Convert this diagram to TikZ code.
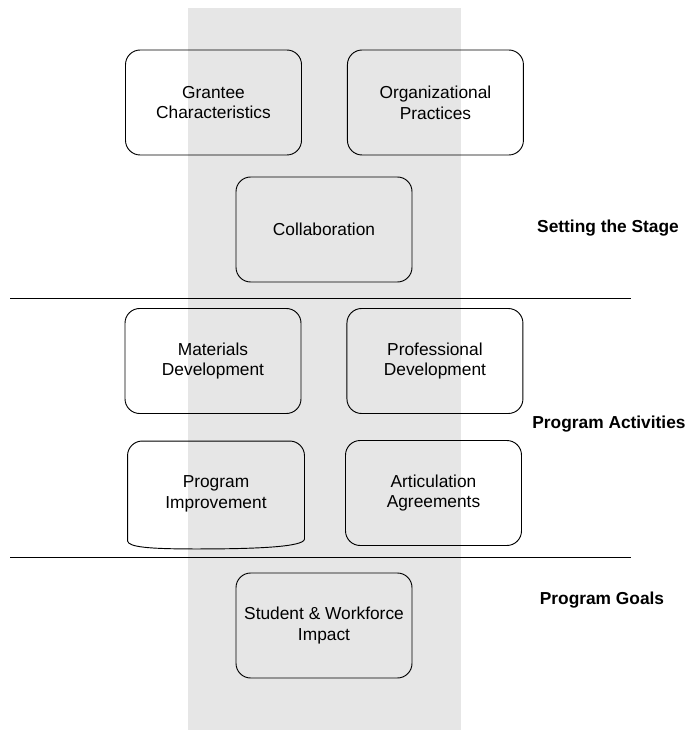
\documentclass[tikz,border=0pt]{standalone}
\usepackage{fontspec}
\setmainfont{Liberation Sans}
\usepackage{tikz}
\usetikzlibrary{positioning,calc}
\definecolor{bandGray}{HTML}{E6E6E6}
\definecolor{ink}{HTML}{000000}

\begin{document}
\begin{tikzpicture}[
  x=0.75pt,y=-0.75pt,
  box/.style={draw=ink,line width=0.7pt,rounded corners=11pt,minimum width=132pt,minimum height=78.75pt,align=center,font=\fontsize{13}{15.5}\selectfont},
  sep/.style={line width=0.7pt,color=ink},
  lbl/.style={font=\fontsize{13}{15.5}\selectfont\bfseries,align=center}
]
  \useasboundingbox (0,0) rectangle (689,730);
  \fill[bandGray] (188,8) rectangle (461,730);
  % setting the stage
  \node[box] (grantee) at (213.5,102.5) {Grantee\\Characteristics};
  \node[box,right=45pt*0.75 of grantee] (orgprac) {Organizational\\Practices};
  \node[box] (collab) at (324,229.5) {Collaboration};
  \node[lbl] (stage) at (608,228) {Setting the Stage};
  \coordinate (sepA1) at (10,298);
  \coordinate (sepA2) at (631,298);
  \draw[sep] (sepA1) -- (sepA2);
  % program activities
  \node[box] (matdev) at (213,361) {Materials\\Development};
  \node[box,right=45pt*0.75 of matdev] (profdev) {Professional\\Development};
  \node[box,draw=none] (progimp) at (216,494) {Program\\Improvement};
  \draw[line width=0.7pt,color=ink,rounded corners=11pt] ($(progimp.south west)+(0,-6)$) -- (progimp.north west) -- (progimp.north east) -- ($(progimp.south east)+(0,-8)$);
  \draw[line width=0.7pt,color=ink] ($(progimp.south west)+(0,-6)$) .. controls ($(progimp.south west)+(1,0)$) and ($(progimp.south west)+(20,2)$) .. ($(progimp.south)+(-20,2)$) .. controls ($(progimp.south)+(40,2)$) and ($(progimp.south east)+(0,0)$) .. ($(progimp.south east)+(0,-8)$);
  \node[box] (artic) at (433.5,493) {Articulation\\Agreements};
  \node[lbl] (activ) at (609,424) {Program Activities};
  \coordinate (sepB1) at (10,557);
  \coordinate (sepB2) at (631,557);
  \draw[sep] (sepB1) -- (sepB2);
  % program goals
  \node[box] (impact) at (324,625.5) {Student \& Workforce\\Impact};
  \node[lbl] (goals) at (602,600) {Program Goals};
\end{tikzpicture}
\end{document}
